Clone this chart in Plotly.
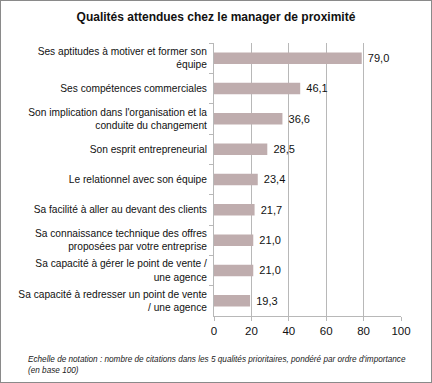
import plotly.graph_objects as go

categories = [
    "Ses aptitudes à motiver et former son<br>équipe",
    "Ses compétences commerciales",
    "Son implication dans l'organisation et la<br>conduite du changement",
    "Son esprit entrepreneurial",
    "Le relationnel avec son équipe",
    "Sa facilité à aller au devant des clients",
    "Sa connaissance technique des offres<br>proposées par votre entreprise",
    "Sa capacité à gérer le point de vente /<br>une agence",
    "Sa capacité à redresser un point de vente<br>/ une agence",
]
values = [79.0, 46.1, 36.6, 28.5, 23.4, 21.7, 21.0, 21.0, 19.3]
value_labels = ["79,0", "46,1", "36,6", "28,5", "23,4", "21,7", "21,0", "21,0", "19,3"]
x_ticks = [0, 20, 40, 60, 80, 100]

W, H = 432, 383
L, R, T, B = 213.5, 31, 43, 67
pw, ph = W - L - R, H - T - B

def px_x(p):
    return (p - L) / pw

def px_y(p):
    return 1 - (p - T) / ph

font = "Liberation Sans, Arial, sans-serif"

fig = go.Figure(go.Bar(
    x=values, y=categories, orientation="h",
    marker=dict(color="#bfadae", line=dict(width=0)),
    text=value_labels, texttemplate="\u00a0%{text}", textposition="outside", cliponaxis=False,
    textfont=dict(size=11.5, color="#111111", family=font),
    width=0.38,
))

fig.update_layout(
    width=W, height=H,
    margin=dict(l=L, r=R, t=T, b=B, pad=0, autoexpand=False),
    paper_bgcolor="white", plot_bgcolor="white",
    showlegend=False,
    font=dict(family=font, color="#111111"),
    title=dict(text="<b>Qualités attendues chez le manager de proximité</b>",
               x=0.5, xanchor="center", y=1 - 17 / H, yanchor="middle",
               font=dict(size=12, family=font, color="#111111")),
    xaxis=dict(range=[0, 100], tickvals=x_ticks, ticktext=[str(v) for v in x_ticks],
               showgrid=True, gridcolor="#b8b8b8", gridwidth=1,
               showline=True, linecolor="#b8b8b8", linewidth=1,
               ticks="outside", ticklen=4, tickcolor="#b8b8b8",
               tickfont=dict(size=11.5, family=font, color="#111111"), zeroline=False,
               automargin=False),
    yaxis=dict(autorange="reversed", type="category", tickson="boundaries",
               showline=True, linecolor="#b8b8b8", linewidth=1,
               ticks="outside", ticklen=4, tickcolor="#b8b8b8",
               tickfont=dict(size=10.2, family=font, color="#111111"),
               showgrid=False, ticklabelstandoff=4, automargin=False),
    annotations=[dict(
        text="<i>Echelle de notation : nombre de citations dans les 5 qualités prioritaires, pondéré par ordre d'importance<br>(en base 100)</i>",
        xref="paper", yref="paper", x=px_x(25), y=px_y(353), xanchor="left", yanchor="top",
        showarrow=False, align="left", font=dict(size=8.2, family=font, color="#222222"))],
)

post = ("document.body.style.margin='0';"
        "var b=document.createElement('div');"
        "b.style.cssText='position:fixed;left:0;top:0;width:432px;height:383px;"
        "box-sizing:border-box;border:1.5px solid #8a8a8a;pointer-events:none;z-index:9999;';"
        "document.body.appendChild(b);")

fig.write_html("out.html", post_script=post, config={"displayModeBar": False})
